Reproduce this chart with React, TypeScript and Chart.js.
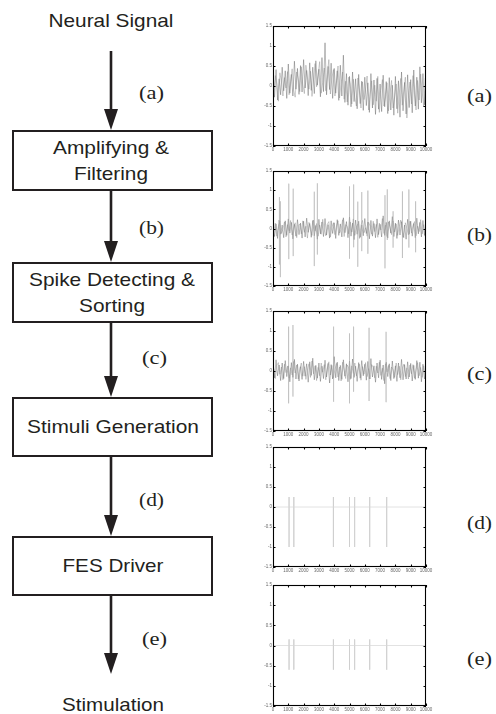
import React, { useEffect, useRef } from 'react';
import { Chart, registerables } from 'chart.js';

Chart.register(...registerables);

// ---------- axis ticks ----------
const yTickValues = [-1.5, -1, -0.5, 0, 0.5, 1, 1.5];
const yTickLabels = ['-1.5', '-1', '-0.5', '0', '0.5', '1', '1.5'];
const xTickValues = [0, 1000, 2000, 3000, 4000, 5000, 6000, 7000, 8000, 9000, 10000];
const xTickLabels = ['0', '1000', '2000', '3000', '4000', '5000', '6000', '7000', '8000', '9000', '10000'];
const SAMPLE_STEP = 100;
const SECOND_TRACE_OFFSET = 50;

// ---------- (a) raw neural signal ----------
const noiseA = [
  0.32, -0.28, 0.41, -0.35, 0.18, -0.22, 0.47, -0.12, 0.38, -0.31,
  0.55, -0.18, 0.29, -0.25, 0.62, -0.08, 0.44, -0.21, 0.51, -0.15,
  0.66, -0.05, 0.39, -0.24, 0.58, -0.11, 0.47, -0.19, 0.63, 0.02,
  0.42, -0.27, 0.71, -0.14, 1.08, -0.22, 0.49, -0.09, 0.57, -0.31,
  0.44, -0.18, 0.38, -0.36, 0.52, -0.25, 0.77, -0.41, 0.31, -0.48,
  0.24, -0.52, 0.35, -0.39, 0.18, -0.57, 0.29, -0.44, 0.12, -0.61,
  0.22, -0.49, 0.08, -0.66, 0.31, -0.55, 0.15, -0.71, 0.19, -0.58,
  0.05, -0.64, 0.27, -0.52, 0.11, -0.69, 0.21, -0.6, 0.02, -0.73,
  0.24, -0.57, 0.13, -0.78, 0.35, -0.62, 0.09, -0.7, 0.28, -0.54,
  0.16, -0.67, 0.4, -0.5, 0.22, -0.58, 0.48, -0.42, 0.31, -0.47,
  0.12,
];
const noiseA2 = [
  -0.15, 0.26, 0.05, -0.38, 0.33, 0.1, -0.25, 0.21, -0.05, 0.36,
  -0.22, 0.12, 0.43, -0.1, -0.28, 0.35, 0.18, -0.14, 0.48, 0.03,
  -0.19, 0.52, 0.22, -0.08, 0.37, -0.26, 0.15, 0.56, -0.02, 0.3,
  0.61, -0.18, 0.09, 0.45, -0.12, 0.28, 0.66, -0.2, 0.2, 0.41,
  -0.25, 0.14, 0.5, -0.3, 0.06, 0.35, -0.33, 0.12, -0.4, 0.22,
  0.05, -0.45, 0.17, -0.28, -0.5, 0.2, -0.15, -0.55, 0.1, -0.34,
  -0.08, 0.25, -0.6, -0.22, 0.13, -0.47, 0.02, -0.38, 0.24, -0.66,
  -0.12, 0.16, -0.5, -0.3, 0.08, -0.62, -0.18, 0.14, -0.55, -0.26,
  0.05, -0.68, -0.2, 0.19, -0.48, -0.1, 0.22, -0.8, -0.32, 0.1,
  -0.45, 0.26, -0.22, -0.6, 0.14, -0.35, 0.3, -0.15, -0.52, 0.2,
];

// ---------- (b) amplified & filtered ----------
const noiseB = [
  0.18, -0.21, 0.12, -0.26, 0.22, -0.15, 0.09, -0.24, 0.2, -0.18,
  0.25, -0.12, 0.16, -0.27, 0.11, -0.2, 0.23, -0.16, 0.14, -0.25,
  0.19, -0.22, 0.27, -0.1, 0.13, -0.23, 0.21, -0.19, 0.08, -0.28,
  0.24, -0.14, 0.17, -0.21, 0.26, -0.17, 0.1, -0.25, 0.2, -0.13,
  0.15, -0.26, 0.23, -0.18, 0.12, -0.22, 0.28, -0.11, 0.18, -0.24,
  0.3, -0.2, 0.14, -0.29, 0.22, -0.15, 0.19, -0.23, 0.09, -0.19,
  0.26, -0.13, 0.17, -0.27, 0.21, -0.2, 0.13, -0.24, 0.25, -0.16,
  0.11, -0.22, 0.33, -0.18, 0.16, -0.25, 0.2, -0.12, 0.31, -0.21,
  0.14, -0.26, 0.22, -0.17, 0.18, -0.23, 0.09, -0.28, 0.24, -0.15,
  0.19, -0.2, 0.13, -0.24, 0.27, -0.14, 0.16, -0.22, 0.21, -0.18,
  0.1,
];
const noiseB2 = [
  -0.08, 0.14, -0.2, 0.05, 0.19, -0.13, -0.02, 0.17, -0.22, 0.1,
  -0.06, 0.21, -0.17, 0.03, 0.15, -0.24, 0.08, 0.12, -0.14, 0.2,
  -0.1, 0.06, -0.25, 0.16, 0.02, -0.18, 0.22, -0.07, 0.13, -0.2,
  0.09, -0.15, 0.24, -0.04, -0.19, 0.11, 0.18, -0.22, 0.04, 0.15,
  -0.16, 0.07, 0.2, -0.12, -0.03, 0.23, -0.21, 0.1, 0.05, -0.14,
  0.17, -0.09, 0.25, -0.18, 0.04, 0.12, -0.26, 0.08, 0.21, -0.11,
  0.02, -0.2, 0.16, 0.06, -0.15, 0.19, -0.08, 0.11, -0.23, 0.14,
  -0.04, 0.26, -0.13, 0.09, -0.21, 0.17, 0.03, -0.16, 0.2, -0.09,
  0.12, -0.18, 0.05, 0.22, -0.1, -0.24, 0.15, 0.01, -0.17, 0.19,
  -0.12, 0.08, 0.18, -0.19, 0.06, -0.08, 0.23, -0.14, 0.1, -0.21,
];
const spikeXB = [420, 480, 1030, 1320, 2700, 2900, 5000, 5270, 5540, 5800, 6200, 7320, 7470, 7850, 8460, 8880, 9320];
const spikeHiB = [0.82, 0.71, 1.17, 1.04, 0.96, 1.18, 1.1, 1.15, 0.7, 0.95, 0.99, 0.87, 1.02, 0.45, 0.97, 1.02, 0.71];
const spikeLoB = [-0.94, -1.27, -0.8, -0.72, -0.98, -0.68, -0.79, -0.49, -1.0, -0.59, -0.66, -1.04, -0.3, -0.5, -0.77, -0.5, -0.62];

// ---------- (c) detected & sorted ----------
const noiseC = [
  0.22, -0.17, 0.28, -0.12, 0.15, -0.24, 0.2, -0.19, 0.26, -0.14,
  0.13, -0.27, 0.21, -0.16, 0.29, -0.2, 0.17, -0.25, 0.11, -0.21,
  0.24, -0.13, 0.18, -0.28, 0.23, -0.11, 0.32, -0.22, 0.14, -0.18,
  0.2, -0.26, 0.12, -0.19, 0.27, -0.15, 0.19, -0.3, 0.16, -0.2,
  0.36, -0.17, 0.22, -0.24, 0.14, -0.21, 0.28, -0.13, 0.18, -0.27,
  0.25, -0.19, 0.3, -0.16, 0.12, -0.26, 0.21, -0.18, 0.26, -0.12,
  0.17, -0.23, 0.24, -0.2, 0.31, -0.15, 0.13, -0.28, 0.2, -0.17,
  0.27, -0.21, 0.15, -0.32, 0.22, -0.14, 0.18, -0.24, 0.25, -0.19,
  0.13, -0.26, 0.2, -0.17, 0.29, -0.22, 0.16, -0.2, 0.23, -0.15,
  0.19, -0.25, 0.14, -0.21, 0.26, -0.18, 0.22, -0.27, 0.17, -0.2,
  0.15,
];
const noiseC2 = [
  0.05, -0.19, 0.14, 0.21, -0.08, 0.1, -0.22, 0.17, -0.04, 0.12,
  -0.18, 0.08, -0.1, 0.24, -0.05, 0.15, -0.2, 0.06, 0.2, -0.13,
  0.11, -0.21, 0.02, 0.18, -0.16, 0.25, -0.07, 0.13, -0.24, 0.09,
  -0.12, 0.2, -0.03, 0.16, -0.22, 0.07, 0.23, -0.1, 0.14, -0.17,
  0.04, 0.19, -0.15, 0.1, -0.25, 0.22, 0.01, -0.19, 0.15, 0.08,
  -0.21, 0.13, -0.06, 0.2, -0.12, 0.05, 0.17, -0.23, 0.11, -0.08,
  0.21, -0.14, 0.06, -0.2, 0.16, 0.09, -0.17, 0.12, -0.05, 0.22,
  -0.11, 0.07, -0.24, 0.18, -0.02, 0.14, -0.19, 0.1, 0.03, -0.16,
  0.2, -0.09, 0.12, -0.22, 0.06, 0.17, -0.14, 0.08, -0.2, 0.15,
  -0.07, 0.16, -0.18, 0.04, 0.21, -0.12, 0.09, -0.16, 0.13, -0.1,
];
const spikeXC = [1020, 1305, 3960, 5000, 5265, 6280, 7390];
const spikeHiC = [1.11, 1.15, 1.11, 0.94, 1.11, 1.08, 0.98];
const spikeLoC = [-0.81, -0.64, -0.77, -0.81, -0.52, -0.75, -0.78];

// ---------- (d) stimuli, (e) FES driver output ----------
const pulseX = [1050, 1360, 3950, 5000, 5335, 6320, 7430];
const pulseHiD = [0.25, 0.25, 0.25, 0.25, 0.25, 0.25, 0.25];
const pulseLoD = [-1.0, -1.0, -1.0, -1.0, -1.0, -1.0, -1.0];
const pulseHiE = [0.15, 0.15, 0.15, 0.15, 0.15, 0.15, 0.15];
const pulseLoE = [-0.6, -0.6, -0.6, -0.6, -0.6, -0.6, -0.6];
const baselineX = [0, 10000];
const baselineY = [0, 0];

// ---------- dataset builders ----------
const noiseSet = (vals: number[], offset: number, color: string) => ({
  data: vals.map((y, i) => ({ x: offset + i * SAMPLE_STEP, y })),
  borderColor: color,
  borderWidth: 0.65,
  pointRadius: 0,
  tension: 0,
});
const spikeSet = (xs: number[], hi: number[], lo: number[], color: string, width: number) => {
  const data: any[] = [];
  xs.forEach((x, i) => {
    data.push({ x, y: hi[i] });
    data.push({ x, y: lo[i] });
    data.push({ x, y: null });
  });
  return { data, borderColor: color, borderWidth: width, pointRadius: 0, spanGaps: false };
};
const baselineSet = () => ({
  data: baselineX.map((x, i) => ({ x, y: baselineY[i] })),
  borderColor: 'rgba(215,215,215,0.9)',
  borderWidth: 0.8,
  pointRadius: 0,
});

const framePlugin = {
  id: 'matlabFrame',
  afterDatasetsDraw(chart: any) {
    const { ctx, chartArea: a, scales } = chart;
    ctx.save();
    ctx.strokeStyle = '#000';
    ctx.lineWidth = 1.1;
    ctx.strokeRect(a.left + 0.5, a.top + 0.5, a.right - a.left - 1, a.bottom - a.top - 1);
    const L = 2.5;
    ctx.beginPath();
    scales.x.ticks.forEach((t: any) => {
      const px = Math.round(scales.x.getPixelForValue(t.value)) + 0.5;
      ctx.moveTo(px, a.bottom); ctx.lineTo(px, a.bottom - L);
      ctx.moveTo(px, a.top); ctx.lineTo(px, a.top + L);
    });
    scales.y.ticks.forEach((t: any) => {
      const py = Math.round(scales.y.getPixelForValue(t.value)) + 0.5;
      ctx.moveTo(a.left, py); ctx.lineTo(a.left + L, py);
      ctx.moveTo(a.right, py); ctx.lineTo(a.right - L, py);
    });
    ctx.stroke();
    ctx.restore();
  },
};

const CANVAS_LEFT = 245;
const CANVAS_W = 190;
const PAD_TOP = 5;
const Y_AXIS_W = 28;
const X_AXIS_H = 12;

function Plot({ top, height, datasets }: { top: number; height: number; datasets: any[] }) {
  const ref = useRef<HTMLCanvasElement>(null);
  useEffect(() => {
    if (!ref.current) return;
    const chart = new Chart(ref.current, {
      type: 'line',
      data: { datasets },
      options: {
        animation: false,
        responsive: false,
        maintainAspectRatio: false,
        events: [],
        layout: { padding: { top: PAD_TOP, right: CANVAS_W - Y_AXIS_W - 153, left: 0, bottom: 0 } },
        plugins: { legend: { display: false }, tooltip: { enabled: false } },
        scales: {
          x: {
            type: 'linear',
            min: 0,
            max: 10000,
            afterFit: (s: any) => { s.height = X_AXIS_H; },
            afterBuildTicks: (s: any) => { s.ticks = xTickValues.map((v) => ({ value: v })); },
            ticks: {
              autoSkip: false,
              maxRotation: 0,
              minRotation: 0,
              padding: 1,
              color: '#666',
              font: { size: 4.5, family: 'Liberation Sans, Arial, sans-serif' },
              callback: (v: any) => {
                const i = xTickValues.indexOf(Number(v));
                return i >= 0 ? xTickLabels[i] : '';
              },
            },
            grid: { display: false, drawTicks: false },
            border: { display: false },
          },
          y: {
            type: 'linear',
            min: -1.5,
            max: 1.5,
            afterFit: (s: any) => { s.width = Y_AXIS_W; },
            afterBuildTicks: (s: any) => { s.ticks = yTickValues.map((v) => ({ value: v })); },
            ticks: {
              padding: 1,
              color: '#666',
              font: { size: 4.5, family: 'Liberation Sans, Arial, sans-serif' },
              callback: (v: any) => {
                const i = yTickValues.indexOf(Number(v));
                return i >= 0 ? yTickLabels[i] : '';
              },
            },
            grid: { display: false, drawTicks: false },
            border: { display: false },
          },
        },
      } as any,
      plugins: [framePlugin],
    });
    return () => chart.destroy();
  }, []);
  const h = PAD_TOP + height + X_AXIS_H;
  return (
    <canvas
      ref={ref}
      width={CANVAS_W}
      height={h}
      style={{ position: 'absolute', left: CANVAS_LEFT, top: top - PAD_TOP, width: CANVAS_W, height: h }}
    />
  );
}

const SANS = 'Liberation Sans, Arial, Helvetica, sans-serif';
const SERIF = 'Liberation Serif, Times New Roman, serif';
const INK = '#231f20';

function T({ x, y, w, s }: { x: number; y: number; w: number; s: string }) {
  return (
    <text x={x} y={y} textAnchor="middle" fontFamily={SANS} fontSize={19} fill={INK}
      textLength={w} lengthAdjust="spacingAndGlyphs">{s}</text>
  );
}
function L({ x, y, s }: { x: number; y: number; s: string }) {
  return (
    <text x={x} y={y} fontFamily={SERIF} fontSize={19} fill={INK}
      textLength={25} lengthAdjust="spacingAndGlyphs">{s}</text>
  );
}
function Arrow({ y1, y2 }: { y1: number; y2: number }) {
  const cx = 111;
  return (
    <g>
      <line x1={cx} y1={y1} x2={cx} y2={y2 - 18} stroke={INK} strokeWidth={2.6} />
      <polygon points={`${cx - 7},${y2 - 21} ${cx + 7},${y2 - 21} ${cx},${y2}`} fill={INK} />
    </g>
  );
}
function Box({ y1, y2 }: { y1: number; y2: number }) {
  return <rect x={13} y={y1} width={199} height={y2 - y1} fill="none" stroke={INK} strokeWidth={2} />;
}

const MAIN_GRAY = 'rgba(85,85,85,0.62)';
const SECOND_GRAY = 'rgba(120,120,120,0.58)';
const SPIKE_GRAY = 'rgba(165,165,165,0.65)';
const PULSE_GRAY = 'rgba(205,205,205,0.95)';

export default function App() {
  return (
    <div style={{ position: 'absolute', left: 0, top: 0, width: 496, height: 714, background: '#fff', overflow: 'hidden' }}>
      <svg width={496} height={714} style={{ position: 'absolute', left: 0, top: 0 }}>
        <T x={111} y={27} w={125} s="Neural Signal" />
        <Arrow y1={51} y2={130} />
        <L x={139} y={99} s="(a)" />
        <Box y1={131} y2={190} />
        <T x={111} y={154} w={116} s="Amplifying &" />
        <T x={111} y={180} w={74} s="Filtering" />
        <Arrow y1={191} y2={262} />
        <L x={139} y={234} s="(b)" />
        <Box y1={263} y2={322} />
        <T x={112} y={286} w={166} s="Spike Detecting &" />
        <T x={112} y={312} w={66} s="Sorting" />
        <Arrow y1={323} y2={397} />
        <L x={142} y={364} s="(c)" />
        <Box y1={398} y2={456} />
        <T x={113} y={433} w={172} s="Stimuli Generation" />
        <Arrow y1={457} y2={536} />
        <L x={139} y={506} s="(d)" />
        <Box y1={537} y2={595} />
        <T x={113} y={572} w={101} s="FES Driver" />
        <Arrow y1={596} y2={674} />
        <L x={142} y={645} s="(e)" />
        <T x={113} y={711} w={102} s="Stimulation" />

        <L x={467} y={102} s="(a)" />
        <L x={467} y={241} s="(b)" />
        <L x={467} y={380} s="(c)" />
        <L x={467} y={529} s="(d)" />
        <L x={467} y={665} s="(e)" />
      </svg>
      <Plot top={26} height={120} datasets={[noiseSet(noiseA2, SECOND_TRACE_OFFSET, SECOND_GRAY), noiseSet(noiseA, 0, MAIN_GRAY)]} />
      <Plot top={171} height={115} datasets={[spikeSet(spikeXB, spikeHiB, spikeLoB, SPIKE_GRAY, 0.5), noiseSet(noiseB2, SECOND_TRACE_OFFSET, SECOND_GRAY), noiseSet(noiseB, 0, MAIN_GRAY)]} />
      <Plot top={311} height={120} datasets={[spikeSet(spikeXC, spikeHiC, spikeLoC, SPIKE_GRAY, 0.5), noiseSet(noiseC2, SECOND_TRACE_OFFSET, SECOND_GRAY), noiseSet(noiseC, 0, MAIN_GRAY)]} />
      <Plot top={447} height={120} datasets={[baselineSet(), spikeSet(pulseX, pulseHiD, pulseLoD, PULSE_GRAY, 0.7)]} />
      <Plot top={585} height={121} datasets={[baselineSet(), spikeSet(pulseX, pulseHiE, pulseLoE, PULSE_GRAY, 0.7)]} />
    </div>
  );
}
